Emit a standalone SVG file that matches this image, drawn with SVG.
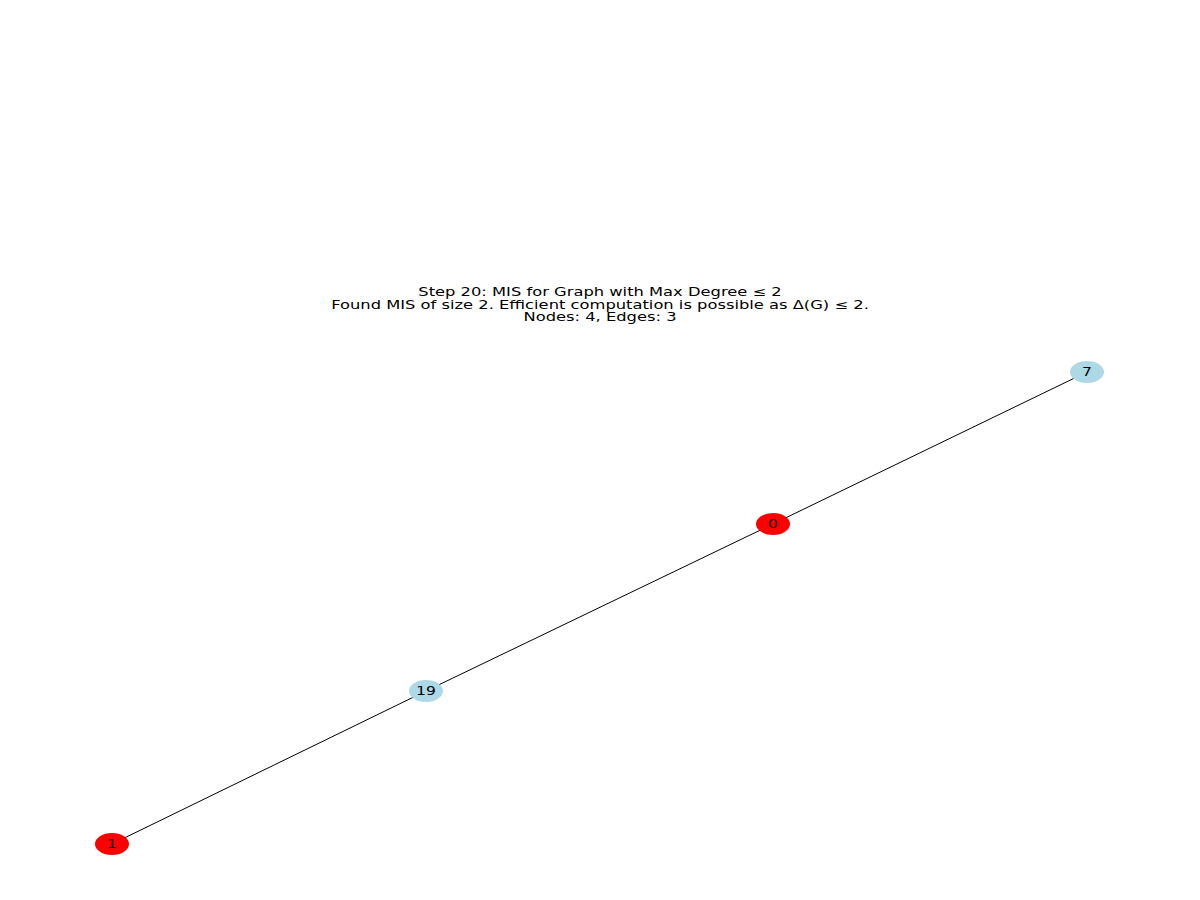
<svg xmlns="http://www.w3.org/2000/svg" width="1200" height="900" viewBox="0 0 1200 900">
<style>
.t{font-family:"DejaVu Sans",sans-serif;font-size:12px;fill:#000;text-anchor:middle}
.l{font-family:"DejaVu Sans",sans-serif;font-size:12px;fill:#000;text-anchor:middle;dominant-baseline:central}
.e{stroke:#000;stroke-width:1;fill:none}
.mis{fill:#ff0000}
.oth{fill:#add8e6}
</style>
<rect width="1200" height="900" fill="#fff"/>
<g id="title" transform="translate(600,0) scale(1.36,1)">
<text class="t" x="0" y="296.5">Step 20: MIS for Graph with Max Degree ≤ 2</text>
<text class="t" x="0" y="309">Found MIS of size 2. Efficient computation is possible as Δ(G) ≤ 2.</text>
<text class="t" x="0" y="321.5">Nodes: 4, Edges: 3</text>
</g>
<g id="edges">
<line class="e" x1="1087" y1="372" x2="773" y2="524"/>
<line class="e" x1="773" y1="524" x2="426" y2="691"/>
<line class="e" x1="426" y1="691" x2="112" y2="844"/>
</g>
<g id="node-7"><ellipse class="oth" cx="1087" cy="372" rx="17" ry="11"/><text class="l" transform="translate(1087,372) scale(1.3,1)">7</text></g>
<g id="node-0"><ellipse class="mis" cx="773" cy="524" rx="17" ry="11"/><text class="l" transform="translate(773,524) scale(1.3,1)">0</text></g>
<g id="node-19"><ellipse class="oth" cx="426" cy="691" rx="17" ry="11"/><text class="l" transform="translate(426,691) scale(1.3,1)">19</text></g>
<g id="node-1"><ellipse class="mis" cx="112" cy="844" rx="17" ry="11"/><text class="l" transform="translate(112,844) scale(1.3,1)">1</text></g>
</svg>
